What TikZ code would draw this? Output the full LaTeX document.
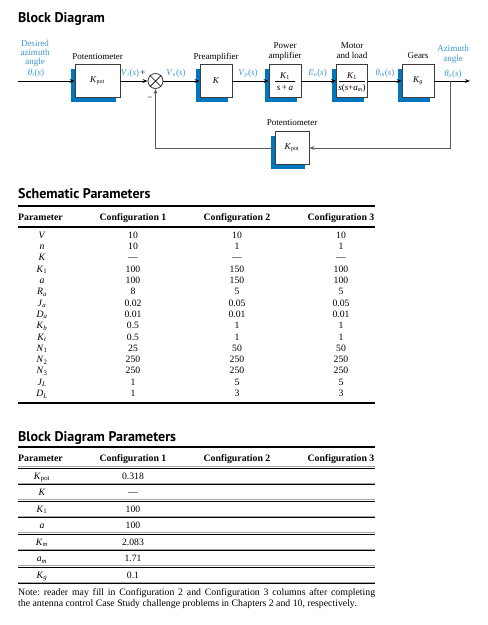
\documentclass[tikz,border=0pt]{standalone}
\usepackage{fontspec}
\setmainfont{Liberation Serif}
\newfontfamily\ttlfont{PT Sans}
\usetikzlibrary{arrows.meta,backgrounds}
\definecolor{sigblue}{RGB}{60,150,215}
\definecolor{shblue}{RGB}{0,118,190}
\definecolor{boxgray}{RGB}{60,60,60}
\frenchspacing
\newcommand\mysig[2]{\textit{#1}\textsubscript{\textit{#2}}(\textit{s})}
\newcommand\mysub[2]{\textit{#1}\textsubscript{#2}}
\newcommand\mysubi[2]{\textit{#1}\textsubscript{\textit{#2}}}
\tikzset{
 blk/.style={draw=boxgray, line width=0.8pt, fill=white, minimum height=33pt, inner sep=0pt,
   font=\fontsize{9}{10}\selectfont},
 lbl/.style={inner sep=0pt, anchor=base, font=\fontsize{9}{10}\selectfont},
 sig/.style={lbl, text=sigblue},
 wire/.style={draw=black, line width=0.7pt},
 arr/.style={wire, -{Stealth[length=5pt,width=3.8pt]}},
 fb/.style={draw=black!65, line width=0.9pt, -{Stealth[length=5pt,width=3.8pt]}},
 ttl/.style={inner sep=0pt, anchor=base west, font=\ttlfont\bfseries\fontsize{14}{16}\selectfont},
 hd/.style={inner sep=0pt, anchor=base, font=\bfseries\fontsize{9.8}{11}\selectfont},
 cell/.style={inner sep=0pt, anchor=base, font=\fontsize{9.7}{11}\selectfont},
 note/.style={inner sep=0pt, anchor=base west, font=\fontsize{9.8}{11}\selectfont},
 fracrule/.style={draw=black, line width=0.6pt},
}
\begin{document}
\begin{tikzpicture}[x=1pt,y=-1pt]
\useasboundingbox (0,0) rectangle (488,625);
% ---------- Block diagram ----------
\node[ttl] (t1) at (18,22) {Block Diagram};
\node[blk, minimum width=45pt] (kpot) at (97.5,81) {\mysub{K}{pot}};
\node[blk, minimum width=32pt] (pre) at (216,81) {\textit{K}};
\node[blk, minimum width=32pt] (pwr) at (285,81) {};
\node[blk, minimum width=31pt] (mot) at (352,81) {};
\node[blk, minimum width=32pt] (gear) at (418,81) {\mysubi{K}{g}};
\node[blk, minimum width=34pt] (kfb) at (292,148) {\mysub{K}{pot}};
\begin{scope}[on background layer]
\foreach \n in {kpot,pre,pwr,mot,gear,kfb}
  \fill[shblue] ([shift={(-4,4.5)}]\n.south west) rectangle ([shift={(-4,4.5)}]\n.north east);
\end{scope}
\node[draw=boxgray, circle, minimum size=15pt, inner sep=0pt, line width=0.8pt, fill=white] (sum) at (155.5,81) {};
\draw[line width=0.7pt] (sum.north west) -- (sum.south east) (sum.north east) -- (sum.south west);
% fractions
\node[lbl] (pn) at (285,78) {\mysub{K}{1}};
\draw[fracrule] (275,81.5) -- (295,81.5);
\node[lbl] (pd) at (285,90) {\textit{s}\,+\,\textit{a}};
\node[lbl] (mn) at (352,78) {\mysub{K}{1}};
\draw[fracrule] (339,81.5) -- (365,81.5);
\node[lbl] (md) at (352,90) {\textit{s}(\textit{s}+\mysubi{a}{m})};
% labels
\node[lbl] (lpot) at (97.5,59) {Potentiometer};
\node[lbl] (lpre) at (216,59) {Preamplifier};
\node[lbl] (lpw1) at (285,48.5) {Power};
\node[lbl] (lpw2) at (285,58.7) {amplifier};
\node[lbl] (lmo1) at (352,48.5) {Motor};
\node[lbl] (lmo2) at (352,58.7) {and load};
\node[lbl] (lgr) at (418,58.7) {Gears};
\node[lbl] (lfb) at (292,125.5) {Potentiometer};
\node[sig] (in1) at (35,46.3) {Desired};
\node[sig] (in2) at (35,55.3) {azimuth};
\node[sig] (in3) at (35,64) {angle};
\node[sig] (thi) at (36,75.5) {\mysig{θ}{i}};
\node[sig] (out1) at (453,51.5) {Azimuth};
\node[sig] (out2) at (453,61) {angle};
\node[sig] (tho) at (453,76.5) {\mysig{θ}{o}};
\node[sig] (vi) at (130,75.5) {\mysig{V}{i}};
\node[lbl] (plus) at (143,75) {+};
\node[lbl] (minus) at (150,100) {−};
\node[sig] (ve) at (176,75.5) {\mysig{V}{e}};
\node[sig] (vp) at (248,75.5) {\mysig{V}{p}};
\node[sig] (ea) at (317.5,75.5) {\mysig{E}{a}};
\node[sig] (thm) at (385,75.5) {\mysig{θ}{m}};
% connectors
\coordinate (in) at (18,81);
\coordinate (out) at (470,81);
\coordinate (tap) at (450,81);
\draw[arr] (in) -- (kpot.west);
\draw[arr] (kpot.east) -- (sum.west);
\draw[arr] (sum.east) -- (pre.west);
\draw[arr] (pre.east) -- (pwr.west);
\draw[arr] (pwr.east) -- (mot.west);
\draw[arr] (mot.east) -- (gear.west);
\draw[arr] (gear.east) -- (out);
\draw[fb] (tap) |- (kfb.east);
\draw[fb] (kfb.west) -| (sum.south);
% ---------- Schematic parameters ----------
\node[ttl] (t2) at (18,198.3) {Schematic Parameters};
\draw[line width=1.5pt] (18,206) -- (375,206);
\node[hd, anchor=base west] (h1) at (18,220.5) {Parameter};
\node[hd] (h2) at (133,220.5) {Configuration 1};
\node[hd] (h3) at (237,220.5) {Configuration 2};
\node[hd] (h4) at (341,220.5) {Configuration 3};
\draw[line width=1.3pt] (18,227) -- (375,227);
\foreach \p/\a/\b/\c [count=\i from 0] in {
 {\textit{V}}/10/10/10,
 {\textit{n}}/10/1/1,
 {\textit{K}}/—/—/—,
 {\mysub{K}{1}}/100/150/100,
 {\textit{a}}/100/150/100,
 {\mysubi{R}{a}}/8/5/5,
 {\mysubi{J}{a}}/0.02/0.05/0.05,
 {\mysubi{D}{a}}/0.01/0.01/0.01,
 {\mysubi{K}{b}}/0.5/1/1,
 {\mysubi{K}{t}}/0.5/1/1,
 {\mysub{N}{1}}/25/50/50,
 {\mysub{N}{2}}/250/250/250,
 {\mysub{N}{3}}/250/250/250,
 {\mysubi{J}{L}}/1/5/5,
 {\mysubi{D}{L}}/1/3/3}{
 \node[cell] (sp\i) at (42,{238.3+11.3*\i}) {\p};
 \node[cell] (sa\i) at (133,{238.3+11.3*\i}) {\a};
 \node[cell] (sb\i) at (237,{238.3+11.3*\i}) {\b};
 \node[cell] (sc\i) at (341,{238.3+11.3*\i}) {\c};
}
\draw[line width=1.5pt] (18,403) -- (375,403);
% ---------- Block diagram parameters ----------
\node[ttl] (t3) at (18,441.5) {Block Diagram Parameters};
\draw[line width=1.3pt] (18,447) -- (375,447);
\node[hd, anchor=base west] (g1) at (18,461.5) {Parameter};
\node[hd] (g2) at (133,461.5) {Configuration 1};
\node[hd] (g3) at (237,461.5) {Configuration 2};
\node[hd] (g4) at (341,461.5) {Configuration 3};
\foreach \i in {0,...,7}{
 \draw[black!35, line width=0.6pt] (18,{468+16.5*\i-1.3}) -- (375,{468+16.5*\i-1.3});
 \draw[line width=1pt] (18,{468+16.5*\i}) -- (375,{468+16.5*\i});
}
\foreach \p/\a [count=\i from 0] in {
 {\mysub{K}{pot}}/0.318,
 {\textit{K}}/—,
 {\mysub{K}{1}}/100,
 {\textit{a}}/100,
 {\mysubi{K}{m}}/2.083,
 {\mysubi{a}{m}}/1.71,
 {\mysubi{K}{g}}/0.1}{
 \node[cell] (bp\i) at (42,{479.3+16.5*\i}) {\p};
 \node[cell] (ba\i) at (133,{479.3+16.5*\i}) {\a};
}
\node[note] (n1) at (18,595)
 {\makebox[357pt][s]{Note: reader may fill in Configuration 2 and Configuration 3 columns after completing}};
\node[note] (n2) at (18,606.3)
 {the antenna control Case Study challenge problems in Chapters 2 and 10, respectively.};
\end{tikzpicture}
\end{document}
